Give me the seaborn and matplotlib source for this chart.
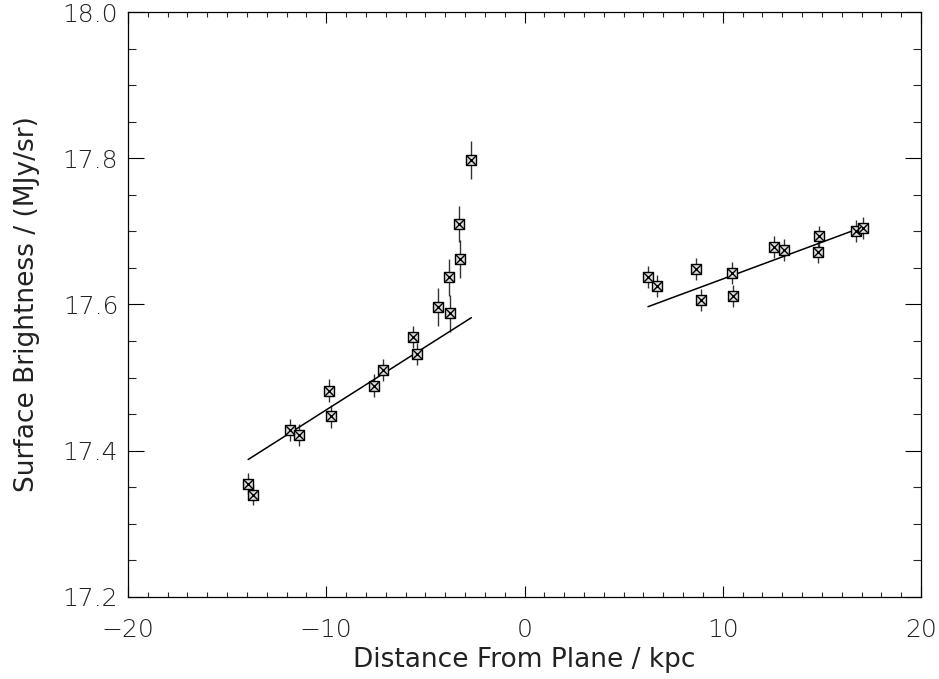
import numpy as np
import pandas as pd
import matplotlib
matplotlib.use("Agg")
import matplotlib.pyplot as plt
import seaborn as sns
from matplotlib.ticker import MultipleLocator, FormatStrFormatter

# --- data ---
left_x = [-13.94, -13.69, -11.82, -11.36, -9.85, -9.75, -7.58, -7.12,
          -5.61, -5.40, -4.34, -3.79, -3.74, -3.23, -3.28, -2.68]
left_y = [17.355, 17.340, 17.429, 17.421, 17.482, 17.447, 17.489, 17.511,
          17.555, 17.532, 17.597, 17.637, 17.588, 17.662, 17.710, 17.797]
left_err = [0.014, 0.014, 0.015, 0.015, 0.016, 0.016, 0.016, 0.015,
            0.015, 0.015, 0.026, 0.025, 0.025, 0.026, 0.025, 0.026]

right_x = [6.23, 6.70, 8.67, 8.92, 10.49, 10.52, 12.59, 13.10, 14.85, 14.80, 16.73, 17.07]
right_y = [17.637, 17.625, 17.649, 17.606, 17.643, 17.611, 17.679, 17.674,
           17.693, 17.672, 17.700, 17.705]
right_err = [0.015] * 12

fit_left_x = [-13.94, -2.68]
fit_left_y = [17.388, 17.582]
fit_right_x = [6.23, 17.07]
fit_right_y = [17.597, 17.706]

x_ticks = [-20, -10, 0, 10, 20]
y_ticks = [17.2, 17.4, 17.6, 17.8, 18.0]

points = pd.DataFrame({
    "x": left_x + right_x,
    "y": left_y + right_y,
    "err": left_err + right_err,
})

sns.set_theme(style="white")
plt.rcParams["font.family"] = ["DejaVu Sans"]
plt.rcParams["font.weight"] = "light"

fig = plt.figure(figsize=(9.39, 6.79), dpi=100)
ax = fig.add_axes([128 / 939, 1 - 597 / 679, (921 - 128) / 939, (597 - 12) / 679])

# error bars
ax.errorbar(points["x"], points["y"], yerr=points["err"], fmt="none",
            ecolor="#333333", elinewidth=1.0, capsize=0, zorder=2)

# fit lines
sns.lineplot(x=fit_left_x, y=fit_left_y, ax=ax, color="black", linewidth=1.1, zorder=3)
sns.lineplot(x=fit_right_x, y=fit_right_y, ax=ax, color="black", linewidth=1.1, zorder=3)

# box-with-cross markers
sns.scatterplot(data=points, x="x", y="y", ax=ax, marker="s", s=55,
                facecolor="#dcdcdc", edgecolor="black", linewidth=1.0, zorder=4)
sns.scatterplot(data=points, x="x", y="y", ax=ax, marker="x", s=40,
                color="black", linewidth=1.0, zorder=5)

ax.set_xlim(-20, 20)
ax.set_ylim(17.2, 18.0)
ax.set_xticks(x_ticks)
ax.set_yticks(y_ticks)
ax.yaxis.set_major_formatter(FormatStrFormatter("%.1f"))
ax.xaxis.set_minor_locator(MultipleLocator(1))
ax.yaxis.set_minor_locator(MultipleLocator(0.05))

ax.tick_params(axis="x", which="major", direction="in", length=8, width=0.8,
               top=True, bottom=True, pad=15, labelsize=18, colors="black",
               labelcolor="#222222")
ax.tick_params(axis="x", which="minor", direction="in", length=3.6, width=0.8,
               top=True, bottom=True)
ax.tick_params(axis="y", which="major", direction="in", length=11.5, width=0.8,
               left=True, right=True, pad=7, labelsize=18, colors="black",
               labelcolor="#222222")
ax.tick_params(axis="y", which="minor", direction="in", length=5.8, width=0.8,
               left=True, right=True)

for sp in ax.spines.values():
    sp.set_visible(True)
    sp.set_color("black")
    sp.set_linewidth(0.9)

ax.set_xlabel("Distance From Plane / kpc", fontsize=19, color="#222222", labelpad=4)
ax.set_ylabel("Surface Brightness / (MJy/sr)", fontsize=19, color="#222222", labelpad=16)
ax.grid(False)

fig.savefig("out.png", dpi=100)
